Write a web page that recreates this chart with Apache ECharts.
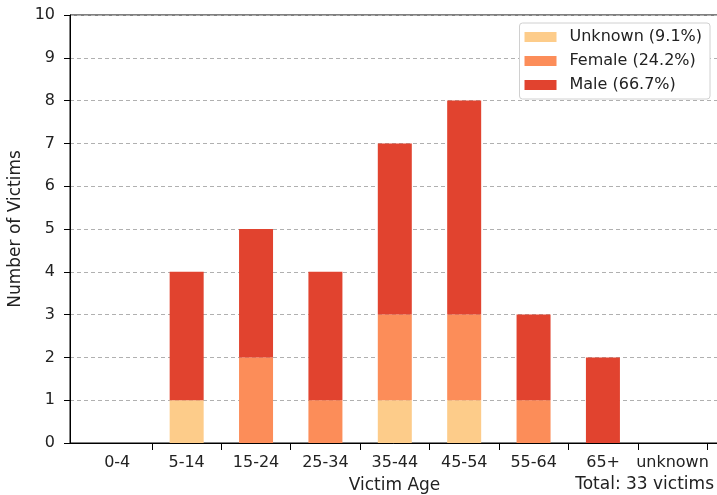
<!DOCTYPE html>
<html>
<head>
<meta charset="utf-8">
<script src="https://cdn.jsdelivr.net/npm/echarts@6/dist/echarts.min.js"></script>
<style>html,body{margin:0;padding:0;background:#fff;}#c{width:717px;height:495px;}</style>
</head>
<body>
<div id="c"></div>
<script>
var categories = ['0-4', '5-14', '15-24', '25-34', '35-44', '45-54', '55-64', '65+', 'unknown'];
var unknownVals = [0, 1, 0, 0, 1, 1, 0, 0, 0];
var femaleVals  = [0, 0, 2, 1, 2, 2, 1, 0, 0];
var maleVals    = [0, 3, 3, 3, 4, 5, 2, 2, 0];
var seriesNames = ['Unknown (9.1%)', 'Female (24.2%)', 'Male (66.7%)'];
var yTicks = [0, 1, 2, 3, 4, 5, 6, 7, 8, 9, 10];
var totalLabel = 'Total: 33 victims';

var FONT = 'DejaVu Sans';
var labelPos = categories.map(function (c, i) { return i; });
var tickPos = categories.map(function (c, i) { return i + 0.5; });

var chart = echarts.init(document.getElementById('c'), null, {renderer: 'canvas'});
chart.setOption({
  animation: false,
  backgroundColor: '#fff',
  textStyle: {fontFamily: FONT},
  grid: [
    {left: 70, right: -2, top: 15, bottom: 52, containLabel: false, outerBoundsMode: 'none',
      show: true, borderColor: '#000', borderWidth: 1, backgroundColor: 'transparent'},
    {left: 82.6, right: 10, top: 15, bottom: 52, containLabel: false, outerBoundsMode: 'none'}
  ],
  legend: {
    orient: 'vertical', right: 7, top: 23,
    data: seriesNames,
    itemWidth: 32, itemHeight: 10, itemGap: 6,
    icon: 'rect',
    backgroundColor: '#fff', borderColor: '#d0d0d0', borderWidth: 1, borderRadius: 3,
    padding: [5, 8, 5, 5],
    textStyle: {fontFamily: FONT, fontSize: 16, color: '#222', lineHeight: 18, padding: [0, 0, 0, 8]}
  },
  xAxis: [
    {
      type: 'value', gridIndex: 0, min: -0.68, max: 8.67,
      name: 'Victim Age', nameLocation: 'middle', nameGap: 34,
      nameTextStyle: {fontFamily: FONT, fontSize: 17, color: '#222'},
      axisLine: {show: true, onZero: false, lineStyle: {color: '#000', width: 1}},
      axisTick: {show: true, length: 7, lineStyle: {color: '#000'}, customValues: tickPos},
      axisLabel: {fontFamily: FONT, fontSize: 16, color: '#222', margin: 12, customValues: labelPos,
        formatter: function (v) { return categories[Math.round(v)]; }},
      splitLine: {show: false}
    },
    {
      type: 'category', gridIndex: 1, data: categories, boundaryGap: true, show: false
    }
  ],
  yAxis: [
    {
      type: 'value', gridIndex: 0, min: 0, max: 10, interval: 1,
      name: 'Number of Victims', nameLocation: 'middle', nameGap: 46,
      nameTextStyle: {fontFamily: FONT, fontSize: 17, color: '#222'},
      axisLine: {show: true, onZero: false, lineStyle: {color: '#000'}},
      axisTick: {show: true, length: 6, lineStyle: {color: '#000'}},
      axisLabel: {fontFamily: FONT, fontSize: 16, color: '#222', margin: 15,
        formatter: function (v) { return yTicks.indexOf(v) >= 0 ? String(v) : ''; }},
      splitLine: {show: true, lineStyle: {color: '#b0b0b0', type: [4, 3], width: 1}}
    },
    {
      type: 'value', gridIndex: 1, min: 0, max: 10, interval: 1, show: false, splitLine: {show: false}
    }
  ],
  series: [
    {name: seriesNames[0], type: 'bar', stack: 'a', xAxisIndex: 1, yAxisIndex: 1, barWidth: 34, data: unknownVals, itemStyle: {color: '#fdcc8a'}},
    {name: seriesNames[1], type: 'bar', stack: 'a', xAxisIndex: 1, yAxisIndex: 1, barWidth: 34, data: femaleVals, itemStyle: {color: '#fc8d59'}},
    {name: seriesNames[2], type: 'bar', stack: 'a', xAxisIndex: 1, yAxisIndex: 1, barWidth: 34, data: maleVals, itemStyle: {color: '#e1432f'}}
  ],
  graphic: [
    {type: 'text', right: 3, top: 476, style: {text: totalLabel, font: '17px "DejaVu Sans"', fill: '#222'}}
  ]
});
</script>
</body>
</html>
